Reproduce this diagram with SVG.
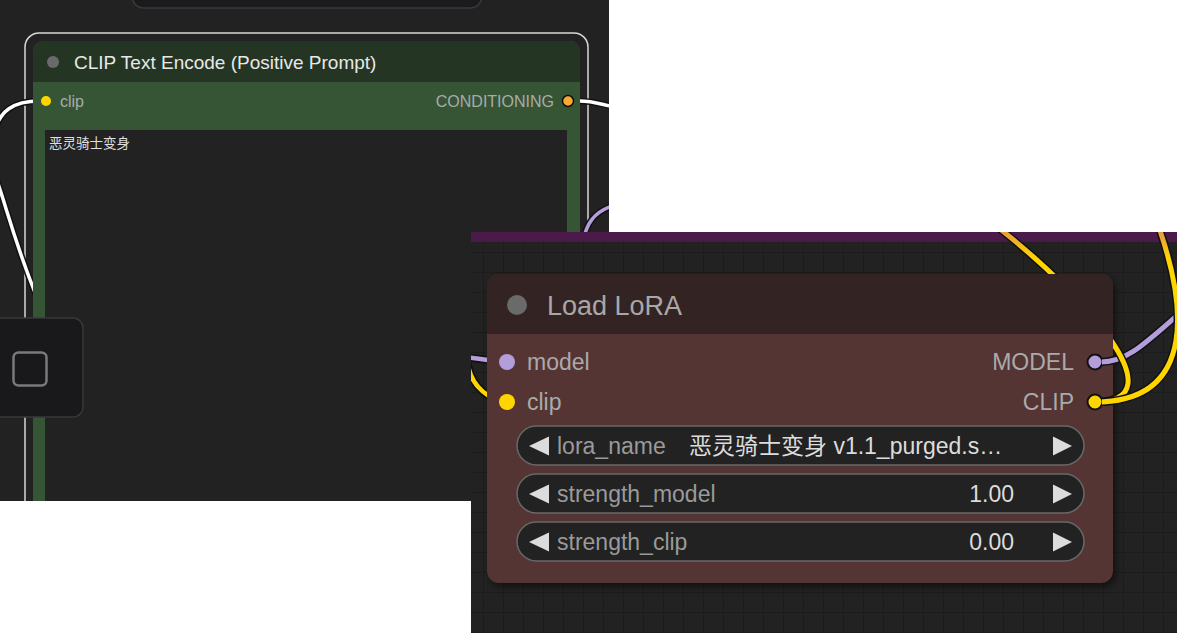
<svg xmlns="http://www.w3.org/2000/svg" width="1187" height="641" viewBox="0 0 1187 641">
<style>
text{font-family:"Liberation Sans",Arial,"Noto Sans CJK SC",sans-serif}
.wo{fill:none;stroke:#111;stroke-linecap:round}
.lbl{fill:#a9aba9}
.wbox{fill:#222;stroke:#686868;stroke-width:1.5}
.arr{fill:#dcdcdc}
.wl{fill:#9a9a9a;font-size:23px}
.wv{fill:#dcdcdc;font-size:23px}
</style>
<defs>
<clipPath id="clipLeftPanel"><rect x="0" y="0" width="609" height="501"/></clipPath>
<clipPath id="clipRightPanel"><rect x="471" y="232" width="706" height="401"/></clipPath>
<clipPath id="clipL"><path clip-rule="evenodd" d="M0 0 H609 V232 H471 V501 H0 Z M33 41 H580 V232 H471 V501 H33 Z"/></clipPath>
<clipPath id="clipR"><path clip-rule="evenodd" d="M471 232 H1177 V633 H471 Z M487 286 Q487 274 499 274 H1101 Q1113 274 1113 286 V571 Q1113 583 1101 583 H499 Q487 583 487 571 Z"/><rect x="1102" y="350" width="11" height="62"/></clipPath>
<pattern id="grid" x="3" y="12" width="20" height="20" patternUnits="userSpaceOnUse"><rect width="20" height="20" fill="#222"/><path d="M0 0 H20 M0 0 V20" stroke="#1a1a1a" stroke-width="1.5"/></pattern>
<linearGradient id="yg" gradientUnits="userSpaceOnUse" x1="0" y1="232" x2="0" y2="258"><stop offset="0" stop-color="#e89a40"/><stop offset="1" stop-color="#ffd500"/></linearGradient>
<filter id="sh" x="-5%" y="-5%" width="110%" height="110%"><feGaussianBlur stdDeviation="3"/></filter>
</defs>
<rect width="1187" height="641" fill="#fff"/>

<g id="left-panel" clip-path="url(#clipLeftPanel)">
<rect x="0" y="0" width="609" height="501" fill="#222"/>
<g id="node-top-partial">
<rect x="132" y="-30" width="350" height="38" rx="12" fill="#1b1b1e" stroke="#3a3a3e" stroke-width="1.5"/>
</g>
<g id="node-clip-text-encode">
<rect x="25" y="33" width="563" height="500" rx="14" fill="none" stroke="#d8d8d8" stroke-width="1.5"/>
<rect x="33" y="41" width="547" height="480" rx="10" fill="#355535"/>
<path d="M33 82 V51 Q33 41 43 41 H570 Q580 41 580 51 V82 Z" fill="#243524"/>
<circle cx="53" cy="62" r="6" fill="#6a6a6a"/>
<text x="74" y="69" font-size="19" fill="#e8e8e8">CLIP Text Encode (Positive Prompt)</text>
<circle cx="46" cy="101" r="5" fill="#ffd500"/>
<text x="60" y="107" font-size="16" class="lbl">clip</text>
<text x="554" y="107" font-size="16" class="lbl" text-anchor="end">CONDITIONING</text>
<circle cx="568" cy="101" r="5.5" fill="#ffa931" stroke="#111" stroke-width="1.5"/>
<rect x="45" y="130" width="522" height="400" fill="#222"/>
<text x="49" y="148" font-size="13.5" fill="#e0e0e0">恶灵骑士变身</text>
</g>
<g id="node-overlay-button">
<rect x="-15" y="318" width="98" height="99" rx="10" fill="#19191c" stroke="#38383c" stroke-width="1.5"/>
<rect x="13.5" y="352.5" width="33" height="33" rx="5" fill="none" stroke="#7a7a7a" stroke-width="2.5"/>
</g>
</g>

<g id="right-panel" clip-path="url(#clipRightPanel)">
<rect x="471" y="232" width="706" height="401" fill="url(#grid)"/>
<rect x="471" y="232" width="706" height="10" fill="#4b1a4b"/>
<g id="node-load-lora">
<rect x="490" y="278" width="626" height="309" rx="12" fill="#000" opacity="0.45" filter="url(#sh)"/>
<rect x="487" y="274" width="626" height="309" rx="12" fill="#553434"/>
<path d="M487 334 V286 Q487 274 499 274 H1101 Q1113 274 1113 286 V334 Z" fill="#342323"/>
<circle cx="517" cy="305" r="10" fill="#6a6a6a"/>
<text x="547" y="315" font-size="27" fill="#a8a8a8">Load LoRA</text>
<circle cx="507" cy="362" r="8" fill="#b39ddb"/>
<text x="527" y="370" font-size="23" class="lbl">model</text>
<circle cx="507" cy="402" r="8" fill="#ffd500"/>
<text x="527" y="410" font-size="23" class="lbl">clip</text>
<text x="1074" y="370" font-size="23" class="lbl" text-anchor="end">MODEL</text>
<circle cx="1095" cy="362" r="7.5" fill="#b39ddb" stroke="#111" stroke-width="2"/>
<text x="1074" y="410" font-size="23" class="lbl" text-anchor="end">CLIP</text>
<circle cx="1095" cy="402" r="7.5" fill="#ffd500" stroke="#111" stroke-width="2"/>
<rect class="wbox" x="517" y="426" width="567" height="39" rx="19.5"/>
<polygon class="arr" points="529,446 549,436.5 549,455.5"/>
<polygon class="arr" points="1072,446 1053,436.5 1053,455.5"/>
<text class="wl" x="557" y="454">lora_name</text>
<text class="wv" x="689" y="454">恶灵骑士变身 v1.1_purged.s…</text>
<rect class="wbox" x="517" y="474" width="567" height="39" rx="19.5"/>
<polygon class="arr" points="529,494 549,484.5 549,503.5"/>
<polygon class="arr" points="1072,494 1053,484.5 1053,503.5"/>
<text class="wl" x="557" y="502">strength_model</text>
<text class="wv" x="1014" y="502" text-anchor="end">1.00</text>
<rect class="wbox" x="517" y="522" width="567" height="39" rx="19.5"/>
<polygon class="arr" points="529,542 549,532.5 549,551.5"/>
<polygon class="arr" points="1072,542 1053,532.5 1053,551.5"/>
<text class="wl" x="557" y="550">strength_clip</text>
<text class="wv" x="1014" y="550" text-anchor="end">0.00</text>
</g>
</g>

<g id="connectors">
<g clip-path="url(#clipL)">
<path class="wo" stroke-width="6.5" d="M-5 130 C0 112 12 101 40 101"/>
<path d="M-5 130 C0 112 12 101 40 101" fill="none" stroke="#fff" stroke-width="3.5"/>
<path class="wo" stroke-width="6.5" d="M-4 178 C6 205 15 245 40 305"/>
<path d="M-4 178 C6 205 15 245 40 305" fill="none" stroke="#fff" stroke-width="3.5"/>
<path class="wo" stroke-width="6.5" d="M580 101 C592 101 600 104 615 107"/>
<path d="M580 101 C592 101 600 104 615 107" fill="none" stroke="#fff" stroke-width="3.5"/>
<path class="wo" stroke-width="6.5" d="M583 245 C585 222 596 211 615 205"/>
<path d="M583 245 C585 222 596 211 615 205" fill="none" stroke="#b39ddb" stroke-width="3.5"/>
</g>
<g clip-path="url(#clipR)">
<path class="wo" stroke-width="8" d="M455 356 C470 357 490 361 507 362"/>
<path d="M455 356 C470 357 490 361 507 362" fill="none" stroke="#b39ddb" stroke-width="4.5"/>
<path class="wo" stroke-width="8" d="M468 365 C472 388 490 400 507 402"/>
<path d="M468 365 C472 388 490 400 507 402" fill="none" stroke="#ffd500" stroke-width="4.5"/>
<path class="wo" stroke-width="8" d="M1101 362 C1130 362 1150 338 1195 300"/>
<path d="M1101 362 C1130 362 1150 338 1195 300" fill="none" stroke="#b39ddb" stroke-width="5"/>
<path class="wo" stroke-width="8" d="M1095 402 C1180 402 1085 295 995 225"/>
<path d="M1095 402 C1180 402 1085 295 995 225" fill="none" stroke="url(#yg)" stroke-width="5"/>
<path class="wo" stroke-width="8" d="M1095 402 C1200 402 1185 300 1157 222"/>
<path d="M1095 402 C1200 402 1185 300 1157 222" fill="none" stroke="url(#yg)" stroke-width="5"/>
</g>
</g>
</svg>
